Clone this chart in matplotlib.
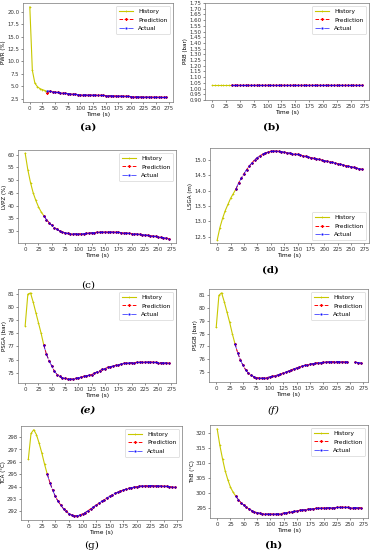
import matplotlib.pyplot as plt
from matplotlib.ticker import MultipleLocator

nan = float("nan")

time_hist = [0, 5, 10, 15, 20, 25, 30, 35]
time_fut = list(range(35, 275, 5))

# (a) PWR
pwr_hist = [21.0, 8.2, 5.6, 4.9, 4.5, 4.3, 4.1, 3.9]
pwr_pred = [3.7, 3.95, 3.85, 3.8, 3.72, 3.65, 3.6, 3.55, 3.5, 3.45, 3.4, 3.35, 3.3, 3.27,
            3.25, 3.23, 3.22, 3.21, 3.2, 3.18, 3.16, 3.14, 3.12, 3.1, 3.08, 3.06, 3.04, 3.02,
            3.0, 2.98, 2.96, 2.94, 2.92, 2.9, 2.88, 2.86, 2.84, 2.82, 2.8, 2.79, 2.78, 2.77,
            2.76, 2.75, 2.74, 2.73, 2.72, 2.71]
pwr_act = [4.1, 3.95, 3.85, 3.8, 3.72, 3.65, 3.6, 3.55, 3.5, 3.45, 3.4, 3.35, 3.3, 3.27,
           3.25, 3.23, 3.22, 3.21, 3.2, 3.18, 3.16, 3.14, 3.12, 3.1, 3.08, 3.06, 3.04, 3.02,
           3.0, 2.98, 2.96, 2.94, 2.92, 2.9, 2.88, 2.86, 2.84, 2.82, 2.8, 2.79, 2.78, 2.77,
           2.76, 2.75, 2.74, 2.73, 2.72, 2.71]

# (b) PRB
prb_hist = [1.03] * 8
prb_pred = [1.03] * 48
prb_act = [1.03] * 48

# (c) LVPZ
lvpz_hist = [60.5, 54.0, 49.0, 45.0, 42.0, 39.5, 37.5, 36.0]
lvpz_act = [36.0, 34.5, 33.3, 32.2, 31.3, 30.6, 30.0, 29.6, 29.3, 29.1, 29.0, 28.9, 28.9,
            28.9, 28.9, 29.0, 29.1, 29.2, 29.3, 29.4, 29.5, 29.5, 29.6, 29.6, 29.6, 29.6,
            29.6, 29.5, 29.5, 29.4, 29.3, 29.2, 29.1, 29.0, 28.9, 28.8, 28.7, 28.6, 28.5,
            28.3, 28.2, 28.0, 27.9, 27.7, 27.5, 27.4, 27.2, 27.0]
lvpz_pred = list(lvpz_act)

# (d) LSGA
lsga_hist = [12.4, 12.8, 13.1, 13.35, 13.55, 13.75, 13.9, 14.05]
lsga_act = [14.05, 14.25, 14.4, 14.55, 14.68, 14.8, 14.9, 15.0, 15.07, 15.13, 15.18, 15.22,
            15.25, 15.27, 15.28, 15.28, 15.27, 15.26, 15.25, 15.23, 15.22, 15.2, 15.18,
            15.17, 15.15, 15.13, 15.11, 15.09, 15.07, 15.05, 15.03, 15.01, 14.99, 14.97,
            14.95, 14.93, 14.91, 14.89, 14.87, 14.85, 14.83, 14.81, 14.79, 14.77, 14.75,
            14.73, 14.71, 14.69]
lsga_pred = list(lsga_act)

# (e) PSGA
psga_hist = [78.6, 81.0, 81.1, 80.4, 79.6, 78.8, 78.0, 77.1]
psga_act = [77.1, 76.4, 75.9, 75.5, 75.1, 74.85, 74.7, 74.6, 74.55, 74.5, 74.5, 74.5,
            74.55, 74.6, 74.65, 74.7, 74.75, 74.8, 74.85, 74.95, 75.05, 75.15, 75.25, 75.3,
            75.4, 75.45, 75.5, 75.55, 75.6, 75.65, 75.7, 75.72, 75.74, 75.76, 75.77, 75.78,
            75.79, 75.8, 75.8, 75.8, 75.8, 75.79, 75.78, 75.77, 75.76, 75.75, 75.74, 75.72]
psga_pred = list(psga_act)

# (f) PSGB
psgb_hist = [78.5, 81.0, 81.2, 80.5, 79.7, 78.9, 78.0, 77.2]
psgb_act = [77.2, 76.5, 75.95, 75.5, 75.15, 74.9, 74.75, 74.62, 74.55, 74.52, 74.5, 74.5,
            74.55, 74.6, 74.65, 74.7, 74.75, 74.82, 74.9, 74.98, 75.06, 75.15, 75.23, 75.3,
            75.38, 75.44, 75.5, 75.55, 75.6, 75.64, 75.68, 75.71, 75.73, 75.75, 75.77, 75.78,
            75.79, 75.8, 75.8, 75.8, 75.79, 75.79, 75.78, nan, nan, 75.74, 75.73, 75.72]
psgb_pred = list(psgb_act)

# (g) TCA
tca_hist = [296.2, 298.3, 298.6, 298.2, 297.5, 296.7, 295.8, 295.0]
tca_act = [295.0, 294.3, 293.7, 293.2, 292.8, 292.5, 292.2, 292.0, 291.8, 291.7, 291.65,
           291.65, 291.7, 291.8, 291.9, 292.05, 292.2, 292.35, 292.5, 292.65, 292.8, 292.95,
           293.1, 293.2, 293.35, 293.45, 293.55, 293.65, 293.72, 293.8, 293.86, 293.92,
           293.96, 294.0, 294.03, 294.05, 294.07, 294.08, 294.08, 294.08, 294.07, 294.06,
           294.05, 294.04, 294.02, 294.0, 293.98, 293.96]
tca_pred = list(tca_act)

# (h) ThB
thb_hist = [321.5, 316.0, 311.5, 307.5, 304.5, 302.0, 300.3, 299.0]
thb_act = [299.0, 297.8, 296.8, 296.0, 295.3, 294.7, 294.2, 293.8, 293.5, 293.3, 293.15,
           293.05, 293.0, 293.0, 293.0, 293.05, 293.1, 293.2, 293.35, 293.5, 293.65, 293.8,
           293.95, 294.1, 294.25, 294.4, 294.5, 294.6, 294.7, 294.8, 294.9, 294.95, 295.0,
           295.05, 295.1, 295.15, 295.2, 295.2, 295.25, 295.25, 295.25, 295.25, 295.25,
           295.2, 295.2, 295.2, 295.2, 295.2]
thb_pred = list(thb_act)

W, H = 373, 550
fig = plt.figure(figsize=(W / 100, H / 100), dpi=100)


def add_ax(left, top, right, bottom):
    return fig.add_axes([left / W, 1 - bottom / H, (right - left) / W, (bottom - top) / H])


panels = [
    # box(px), ylabel, hist, pred, act, ytick step, ylim, legend loc, caption, caption pos, caption style
    ((23, 3, 173, 102), "PWR (%)", pwr_hist, pwr_pred, pwr_act, 2.5, (1.8, 21.8), "upper right",
     "(a)", (88, 127), dict(weight="bold")),
    ((205, 3, 369, 100), "PRB (bar)", prb_hist, prb_pred, prb_act, 0.05, (0.9, 1.75), "upper right",
     "(b)", (272, 127), dict(weight="bold")),
    ((18, 150, 176, 243), "LVPZ (%)", lvpz_hist, lvpz_pred, lvpz_act, 5, (25.3, 61.8), "upper right",
     "(c)", (88, 285), dict()),
    ((210, 148, 369, 243), "LSGA (m)", lsga_hist, lsga_pred, lsga_act, 0.5, (12.3, 15.38), "lower right",
     "(d)", (270, 270), dict(weight="bold")),
    ((18, 289, 176, 383), "PSGA (bar)", psga_hist, psga_pred, psga_act, 1, (74.2, 81.4), "upper right",
     "(e)", (88, 410), dict(style="italic", weight="bold")),
    ((209, 289, 368, 382), "PSGB (bar)", psgb_hist, psgb_pred, psgb_act, 1, (74.2, 81.5), "upper right",
     "(f)", (273, 410), dict(style="italic")),
    ((21, 426, 182, 520), "TCA (\u00b0C)", tca_hist, tca_pred, tca_act, 1, (291.3, 298.9), "upper right",
     "(g)", (92, 545), dict()),
    ((210, 425, 368, 518), "ThB (\u00b0C)", thb_hist, thb_pred, thb_act, 5, (291.7, 322.8), "upper right",
     "(h)", (274, 545), dict(weight="bold")),
]

for box, ylabel, hist, pred, act, step, ylim, loc, cap, cpos, cstyle in panels:
    ax = add_ax(*box)
    ax.plot(time_hist, hist, color="#c8c800", marker="+", ms=1.6, mew=0.5, lw=0.8, label="History")
    ax.plot(time_fut, pred, color="red", ls="--", marker="*", ms=1.3, lw=0.7, label="Prediction")
    ax.plot(time_fut, act, color="blue", ls="-.", marker=".", ms=1.4, lw=0.6, alpha=0.75,
            label="Actual")
    ax.set_xticks(range(0, 276, 25))
    ax.yaxis.set_major_locator(MultipleLocator(step))
    ax.set_ylim(*ylim)
    ax.set_xlabel("Time (s)", fontsize=4.2, labelpad=1)
    ax.set_ylabel(ylabel, fontsize=4, labelpad=0.5)
    ax.tick_params(labelsize=3.9, length=1.5, width=0.4, pad=1.2, colors="#333333")
    for s in ax.spines.values():
        s.set_linewidth(0.5)
        s.set_color("#777777")
    ax.legend(loc=loc, fontsize=4.2, handlelength=2.5, borderpad=0.5, labelspacing=0.6,
              framealpha=1, edgecolor="#cccccc", fancybox=True).get_frame().set_linewidth(0.4)
    fig.text(cpos[0] / W, 1 - cpos[1] / H, cap, ha="center", va="center", fontsize=7.5,
             family="DejaVu Serif", **cstyle)

fig.savefig("out.png", dpi=100)
